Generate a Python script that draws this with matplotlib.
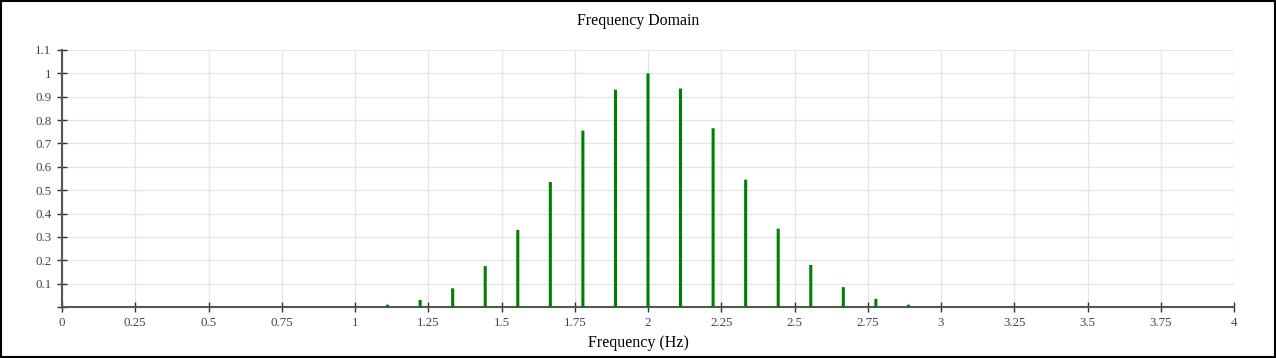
import numpy as np
import matplotlib.pyplot as plt
from matplotlib.ticker import FuncFormatter

plt.rcParams['font.family'] = ['Liberation Serif', 'DejaVu Serif']

# spectrum lines (Hz) and normalised amplitude
freqs = [k / 9 for k in range(10, 27)]
amps = [0.01, 0.03, 0.08, 0.175, 0.33, 0.535, 0.755, 0.93, 1.0,
        0.935, 0.765, 0.545, 0.335, 0.18, 0.085, 0.035, 0.01]

x_ticks = np.arange(0, 4.01, 0.25)
y_ticks = np.arange(0, 1.11, 0.1)

fig = plt.figure(figsize=(12.76, 3.58), dpi=100)
ax = fig.add_axes([62 / 1276, 51 / 358, 1172 / 1276, 257 / 358])

ax.bar(freqs, amps, width=0.0105, color='#008000', linewidth=0, snap=False, zorder=3)

ax.set_xlim(0, 4)
ax.set_ylim(0, 1.1)
ax.set_xticks(x_ticks)
ax.set_yticks(y_ticks)
ax.xaxis.set_major_formatter(FuncFormatter(lambda v, p: '%g' % round(v, 2)))
ax.yaxis.set_major_formatter(FuncFormatter(lambda v, p: '' if abs(v) < 1e-9 else '%g' % round(v, 2)))
ax.grid(True, color='#e6e6e6', linewidth=1, zorder=0)
ax.set_axisbelow(True)

for s in ['top', 'right']:
    ax.spines[s].set_visible(False)
for s in ['left', 'bottom']:
    ax.spines[s].set_color('#555555')
    ax.spines[s].set_linewidth(1.5)
ax.tick_params(direction='inout', length=7, width=1, color='#333333',
               labelsize=9.3, labelcolor='#444444', pad=4)

ax.set_xlabel('Frequency (Hz)', fontsize=11.5, labelpad=2)
ax.xaxis.set_label_coords((638 - 62) / 1172, -0.11)
fig.text(0.5, 1 - 21 / 358, 'Frequency Domain', ha='center', va='center', fontsize=11.4)

# outer frame
fig.patches.append(plt.Rectangle((0.0005, 0.0015), 0.999, 0.997, transform=fig.transFigure,
                                 fill=False, edgecolor='black', linewidth=1.5))

fig.savefig('out.png', dpi=100)
